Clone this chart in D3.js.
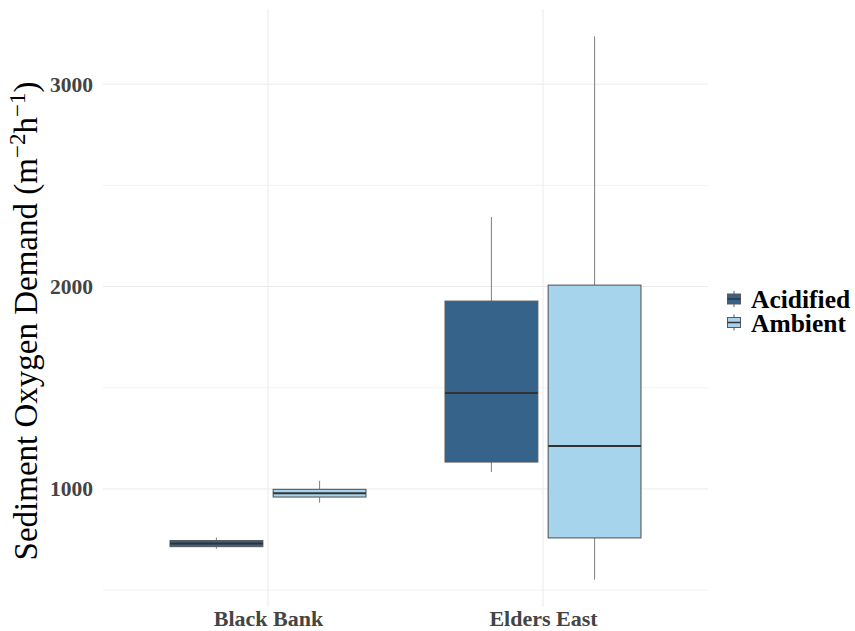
<!DOCTYPE html>
<html>
<head>
<meta charset="utf-8">
<script src="https://cdn.jsdelivr.net/npm/d3@7"></script>
<style>
  body { margin: 0; background: #fff; }
  svg { display: block; }
</style>
</head>
<body>
<svg id="chart" width="855" height="631"></svg>
<script>
// Sites on the x axis and treatments in the legend
const sites = ["Black Bank", "Elders East"];
const treatments = ["Acidified", "Ambient"];
const treatmentColors = ["#35638a", "#a6d4ed"];

// Box summaries per treatment, one entry per site:
// [lower whisker, first quartile, median, third quartile, upper whisker]
const acidified = [
  [704, 715, 730, 745, 760],
  [1084, 1133, 1474, 1928, 2343]
];
const ambient = [
  [932, 960, 979, 998, 1040],
  [551, 758, 1212, 2007, 3237]
];

const yMajorTicks = [1000, 2000, 3000];
const yMinorTicks = [500, 1500, 2500];

const SERIF = '"Liberation Serif", "Times New Roman", serif';
const svg = d3.select("#chart");
const panel = { left: 103, right: 708, top: 9, bottom: 607 };

// y domain spans the data with 5% padding on each side
const all = acidified.concat(ambient).flat();
const lo = d3.min(all), hi = d3.max(all), pad = (hi - lo) * 0.05;
const y = d3.scaleLinear().domain([lo - pad, hi + pad]).range([panel.bottom, panel.top]);
const x = d3.scalePoint().domain(sites).range([panel.left, panel.right]).padding(0.6);
const step = x.step();
const dodge = d3.scaleBand().domain(treatments).range([-0.375 * step, 0.375 * step]);
const boxW = dodge.bandwidth() * 0.9;

// Grid
const grid = svg.append("g");
grid.selectAll(".minor").data(yMinorTicks).join("line")
  .attr("x1", panel.left).attr("x2", panel.right)
  .attr("y1", d => y(d)).attr("y2", d => y(d))
  .attr("stroke", "#f3f3f3").attr("stroke-width", 1);
grid.selectAll(".major").data(yMajorTicks).join("line")
  .attr("x1", panel.left).attr("x2", panel.right)
  .attr("y1", d => y(d)).attr("y2", d => y(d))
  .attr("stroke", "#ebebeb").attr("stroke-width", 1);
grid.selectAll(".vert").data(sites).join("line")
  .attr("x1", d => x(d)).attr("x2", d => x(d))
  .attr("y1", panel.top).attr("y2", panel.bottom)
  .attr("stroke", "#ebebeb").attr("stroke-width", 1);

// Boxes
const series = [acidified, ambient];
const boxes = [];
treatments.forEach((t, ti) => {
  sites.forEach((s, si) => {
    boxes.push({ t, ti, s, stats: series[ti][si] });
  });
});
const bx = d => x(d.s) + dodge(d.t) + dodge.bandwidth() / 2;
const g = svg.append("g").selectAll("g").data(boxes).join("g");
g.append("line")
  .attr("x1", bx).attr("x2", bx)
  .attr("y1", d => y(d.stats[4])).attr("y2", d => y(d.stats[3]))
  .attr("stroke", "#8a8a8a").attr("stroke-width", 1.1);
g.append("line")
  .attr("x1", bx).attr("x2", bx)
  .attr("y1", d => y(d.stats[1])).attr("y2", d => y(d.stats[0]))
  .attr("stroke", "#8a8a8a").attr("stroke-width", 1.1);
g.append("rect")
  .attr("x", d => bx(d) - boxW / 2).attr("width", boxW)
  .attr("y", d => y(d.stats[3])).attr("height", d => y(d.stats[1]) - y(d.stats[3]))
  .attr("fill", d => treatmentColors[d.ti])
  .attr("stroke", "#5a5a5a").attr("stroke-width", 1.1);
g.append("line")
  .attr("x1", d => bx(d) - boxW / 2).attr("x2", d => bx(d) + boxW / 2)
  .attr("y1", d => y(d.stats[2])).attr("y2", d => y(d.stats[2]))
  .attr("stroke", "#333333").attr("stroke-width", 2);

// Axes
const yAxis = d3.axisLeft(y).tickValues(yMajorTicks).tickFormat(d3.format("d"))
  .tickSize(0).tickPadding(10);
const ya = svg.append("g").attr("transform", `translate(${panel.left},0)`).call(yAxis);
ya.select(".domain").remove();
ya.selectAll("text")
  .style("font-family", SERIF).style("font-size", "21.5px")
  .style("font-weight", "bold").attr("fill", "#444");

const xAxis = d3.axisBottom(x).tickSize(0).tickPadding(3);
const xa = svg.append("g").attr("transform", `translate(0,${panel.bottom})`).call(xAxis);
xa.select(".domain").remove();
xa.selectAll("text")
  .style("font-family", SERIF).style("font-size", "22px")
  .style("font-weight", "bold").attr("fill", "#444");

// Y title with superscript units
const yt = svg.append("text")
  .attr("transform", "translate(37,321) rotate(-90)")
  .attr("text-anchor", "middle").attr("fill", "#000")
  .style("font-family", SERIF).style("font-size", "33px");
yt.append("tspan").text("Sediment Oxygen Demand (m");
yt.append("tspan").attr("dy", -12).style("font-size", "23px").text("\u22122");
yt.append("tspan").attr("dy", 12).text("h");
yt.append("tspan").attr("dy", -12).style("font-size", "23px").text("\u22121");
yt.append("tspan").attr("dy", 12).text(")");

// Legend
const lg = svg.append("g").attr("transform", "translate(727,291)");
const item = lg.selectAll("g").data(treatments).join("g")
  .attr("transform", (d, i) => `translate(0,${i * 23.5})`);
item.append("line").attr("x1", 7).attr("x2", 7).attr("y1", 0).attr("y2", 16)
  .attr("stroke", "#555").attr("stroke-width", 1);
item.append("rect").attr("x", 0.5).attr("y", 3).attr("width", 13).attr("height", 10)
  .attr("fill", (d, i) => treatmentColors[i]).attr("stroke", "#5a5a5a").attr("stroke-width", 1);
item.append("line").attr("x1", 0.5).attr("x2", 13.5).attr("y1", 8).attr("y2", 8)
  .attr("stroke", "#333").attr("stroke-width", 1.5);
item.append("text").attr("x", 24).attr("y", 17)
  .style("font-family", SERIF).style("font-size", "25.5px").style("font-weight", "bold")
  .attr("fill", "#000")
  .text(d => d);
</script>
</body>
</html>
